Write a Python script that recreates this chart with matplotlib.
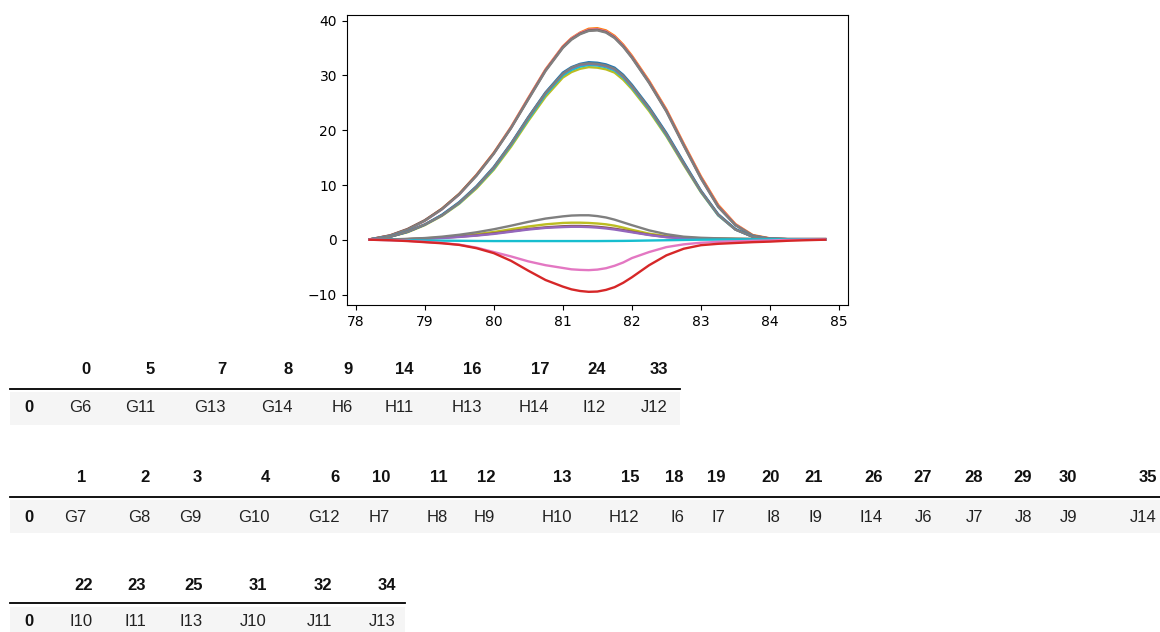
import matplotlib.pyplot as plt
from matplotlib.patches import Rectangle
from matplotlib.lines import Line2D

# x grid shared by every curve
x = [78.2, 78.5, 78.75, 79.0, 79.25, 79.5, 79.75, 80.0, 80.25, 80.5, 80.75,
     81.0, 81.125, 81.25, 81.375, 81.5, 81.625, 81.75, 81.875,
     82.0, 82.25, 82.5, 82.75, 83.0, 83.25, 83.5, 83.75, 84.0, 84.25, 84.5, 84.8]

# high group (~38)
high_orange = [0.1, 0.8, 1.9, 3.5, 5.7, 8.4, 11.9, 15.9, 20.6, 25.9, 31.1,
               35.3, 36.8, 37.8, 38.5, 38.6, 38.2, 37.2, 35.6,
               33.6, 29.0, 23.8, 17.6, 11.6, 6.4, 2.9, 0.9, 0.3, 0.15, 0.15, 0.15]
high_pink = [0.1, 0.8, 1.9, 3.5, 5.6, 8.3, 11.8, 15.8, 20.5, 25.8, 31.0,
             35.2, 36.7, 37.7, 38.3, 38.4, 38.0, 37.0, 35.4,
             33.4, 28.8, 23.6, 17.4, 11.4, 6.2, 2.8, 0.8, 0.25, 0.15, 0.15, 0.15]
high_brown = [0.1, 0.85, 2.0, 3.6, 5.7, 8.4, 11.8, 15.8, 20.4, 25.7, 30.9,
              35.1, 36.6, 37.6, 38.2, 38.3, 37.9, 36.9, 35.3,
              33.3, 28.7, 23.5, 17.3, 11.3, 6.1, 2.7, 0.8, 0.25, 0.15, 0.15, 0.15]
high_gray = [0.1, 0.8, 1.9, 3.5, 5.6, 8.3, 11.7, 15.7, 20.4, 25.6, 30.8,
             35.0, 36.5, 37.5, 38.1, 38.2, 37.8, 36.8, 35.2,
             33.2, 28.6, 23.4, 17.2, 11.2, 6.0, 2.7, 0.8, 0.25, 0.15, 0.15, 0.15]

# mid group (~32)
mid_yellow = [0.1, 0.6, 1.4, 2.7, 4.4, 6.6, 9.4, 12.8, 17.0, 21.7, 26.1,
              29.6, 30.6, 31.2, 31.5, 31.4, 31.1, 30.5, 29.2,
              27.5, 23.5, 18.9, 13.7, 8.7, 4.5, 1.9, 0.6, 0.2, 0.15, 0.15, 0.15]
mid_cyan = [0.1, 0.6, 1.5, 2.8, 4.5, 6.7, 9.6, 13.0, 17.3, 22.0, 26.5,
            30.0, 31.0, 31.6, 31.9, 31.8, 31.5, 30.9, 29.6,
            27.8, 23.8, 19.1, 13.9, 8.8, 4.5, 1.9, 0.6, 0.2, 0.15, 0.15, 0.15]
mid_purple = [0.1, 0.6, 1.5, 2.8, 4.5, 6.8, 9.7, 13.2, 17.5, 22.3, 26.8,
              30.3, 31.3, 31.9, 32.1, 32.0, 31.7, 31.1, 29.8,
              28.0, 24.0, 19.3, 14.0, 8.9, 4.6, 1.9, 0.6, 0.2, 0.15, 0.15, 0.15]
mid_blue = [0.1, 0.6, 1.5, 2.8, 4.6, 6.9, 9.8, 13.3, 17.6, 22.4, 26.9,
            30.5, 31.5, 32.1, 32.4, 32.3, 32.0, 31.4, 30.1,
            28.3, 24.2, 19.5, 14.2, 9.0, 4.7, 2.0, 0.6, 0.2, 0.15, 0.15, 0.15]
mid_gray = [0.1, 0.6, 1.5, 2.8, 4.5, 6.8, 9.7, 13.2, 17.5, 22.3, 26.8,
            30.3, 31.4, 32.0, 32.2, 32.1, 31.8, 31.2, 29.9,
            28.1, 24.0, 19.3, 14.0, 8.9, 4.6, 1.9, 0.6, 0.2, 0.15, 0.15, 0.15]

# small group
small_gray = [0.05, 0.1, 0.2, 0.35, 0.6, 0.95, 1.4, 1.95, 2.6, 3.3, 3.9,
              4.3, 4.45, 4.5, 4.5, 4.35, 4.1, 3.7, 3.2,
              2.7, 1.75, 1.05, 0.6, 0.4, 0.3, 0.25, 0.2, 0.15, 0.15, 0.15, 0.15]
small_yellow = [0.05, 0.1, 0.15, 0.3, 0.45, 0.7, 1.05, 1.45, 1.95, 2.45, 2.85,
                3.1, 3.15, 3.15, 3.1, 3.0, 2.85, 2.6, 2.25,
                1.85, 1.15, 0.7, 0.45, 0.3, 0.25, 0.2, 0.15, 0.15, 0.15, 0.15, 0.15]
small_brown = [0.05, 0.1, 0.15, 0.25, 0.4, 0.6, 0.85, 1.2, 1.6, 2.0, 2.3,
               2.5, 2.55, 2.55, 2.5, 2.4, 2.25, 2.05, 1.8,
               1.5, 0.95, 0.55, 0.35, 0.25, 0.2, 0.15, 0.15, 0.15, 0.15, 0.15, 0.15]
small_purple = [0.05, 0.1, 0.15, 0.25, 0.35, 0.55, 0.8, 1.1, 1.5, 1.9, 2.2,
                2.35, 2.4, 2.4, 2.35, 2.25, 2.1, 1.9, 1.65,
                1.4, 0.9, 0.5, 0.3, 0.2, 0.15, 0.15, 0.15, 0.15, 0.15, 0.15, 0.15]
flat_cyan = [0.05, 0.0, -0.05, -0.1, -0.12, -0.15, -0.18, -0.2, -0.2, -0.2, -0.2,
             -0.2, -0.2, -0.2, -0.2, -0.2, -0.19, -0.18, -0.17,
             -0.15, -0.1, -0.05, 0.0, 0.05, 0.08, 0.1, 0.12, 0.12, 0.12, 0.12, 0.12]
neg_pink = [0.05, -0.05, -0.15, -0.35, -0.55, -0.85, -1.4, -2.2, -3.0, -3.9, -4.6,
            -5.1, -5.35, -5.45, -5.5, -5.4, -5.15, -4.7, -4.1,
            -3.3, -2.2, -1.3, -0.8, -0.5, -0.35, -0.25, -0.15, -0.1, 0.0, 0.05, 0.1]
neg_red = [0.05, -0.05, -0.2, -0.4, -0.6, -0.9, -1.5, -2.4, -3.8, -5.6, -7.3,
           -8.5, -9.0, -9.3, -9.45, -9.4, -9.1, -8.6, -7.8,
           -6.8, -4.6, -2.8, -1.6, -0.95, -0.7, -0.55, -0.4, -0.3, -0.15, -0.05, 0.05]

# dataframe tables below the chart
t1_cols = ['0', '5', '7', '8', '9', '14', '16', '17', '24', '33']
t1_vals = ['G6', 'G11', 'G13', 'G14', 'H6', 'H11', 'H13', 'H14', 'I12', 'J12']
t2_cols = ['1', '2', '3', '4', '6', '10', '11', '12', '13', '15', '18', '19', '20', '21',
           '26', '27', '28', '29', '30', '35']
t2_vals = ['G7', 'G8', 'G9', 'G10', 'G12', 'H7', 'H8', 'H9', 'H10', 'H12', 'I6', 'I7', 'I8',
           'I9', 'I14', 'J6', 'J7', 'J8', 'J9', 'J14']
t3_cols = ['22', '23', '25', '31', '32', '34']
t3_vals = ['I10', 'I11', 'I13', 'J10', 'J11', 'J13']

# layout (pixels)
W, H = 1160, 632
t1_right = [91, 155, 226, 293, 353, 414, 482, 549, 606, 668]
t2_right = [86, 150, 202, 270, 340, 390, 448, 495, 572, 639, 684, 725, 780, 823, 883,
            932, 983, 1032, 1077, 1157]
t3_right = [93, 146, 203, 267, 332, 396]

curves = [
    (high_orange, '#ff7f0e'), (high_pink, '#e377c2'), (high_brown, '#8c564b'), (high_gray, '#7f7f7f'),
    (mid_yellow, '#bcbd22'), (mid_cyan, '#17becf'), (mid_purple, '#9467bd'), (mid_blue, '#1f77b4'),
    (mid_gray, '#7f7f7f'),
    (small_yellow, '#bcbd22'), (small_brown, '#8c564b'), (small_purple, '#9467bd'),
    (small_gray, '#7f7f7f'), (flat_cyan, '#17becf'),
    (neg_pink, '#e377c2'), (neg_red, '#d62728'),
]

fig = plt.figure(figsize=(W / 100, H / 100), dpi=100)
ax = fig.add_axes([346.7 / W, 1 - 305 / H, (848 - 346.7) / W, (305 - 15) / H])
for vals, col in curves:
    ax.plot(x, vals, color=col, lw=1.7)


def px(xp, yp):
    return xp / W, 1 - yp / H


def draw_table(cols, vals, rights, y_head, y_line, y_row, bg_top, bg_bot, x_end):
    x0, y0 = px(10, bg_bot)
    x1, y1 = px(x_end, bg_top)
    fig.add_artist(Rectangle((x0, y0), x1 - x0, y1 - y0, transform=fig.transFigure,
                             facecolor='#f5f5f5', edgecolor='none'))
    fig.add_artist(Line2D([10 / W, x_end / W], [1 - y_line / H] * 2,
                          transform=fig.transFigure, color='black', lw=1.3))
    tx, ty = px(29, y_row)
    fig.text(tx, ty, '0', ha='center', va='center', fontweight='bold',
             family='Liberation Sans', fontsize=12, color='#111111')
    for c, v, r in zip(cols, vals, rights):
        hx, hy = px(r, y_head)
        fig.text(hx, hy, c, ha='right', va='center', fontweight='bold',
                 family='Liberation Sans', fontsize=12, color='#111111')
        dx, dy = px(r, y_row)
        fig.text(dx, dy, v, ha='right', va='center',
                 family='Liberation Sans', fontsize=12, color='#222222')


draw_table(t1_cols, t1_vals, t1_right, 370, 388.5, 408, 392, 425, 680)
draw_table(t2_cols, t2_vals, t2_right, 478, 497, 517, 500, 533, 1160)
draw_table(t3_cols, t3_vals, t3_right, 585, 603, 622, 607, 640, 405)

fig.savefig('out.png', dpi=100)
